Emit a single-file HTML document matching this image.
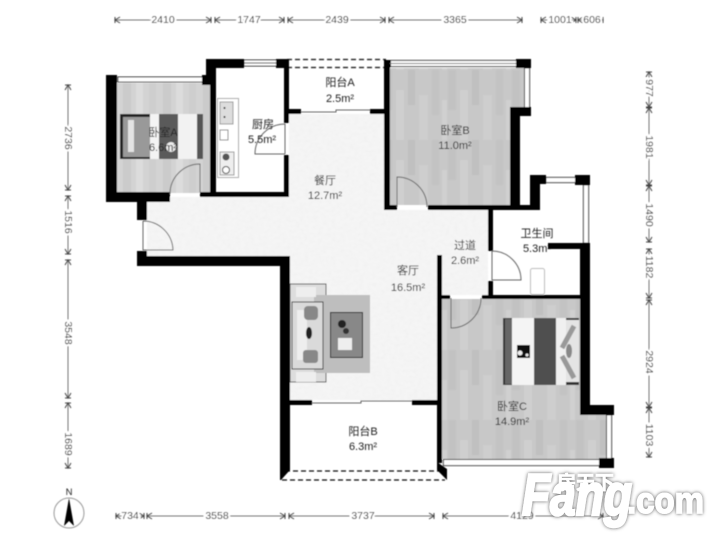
<!DOCTYPE html>
<html><head><meta charset="utf-8"><style>
html,body{margin:0;padding:0;background:#fff}
svg{display:block}
text{font-family:"Liberation Sans","Noto Sans CJK SC",sans-serif;fill:#222}
.l{font-size:11px;text-anchor:middle}
.d{font-size:10.5px;text-anchor:middle;dominant-baseline:central;stroke:#fff;stroke-width:4px;paint-order:stroke;fill:#222}
.a{stroke:#777;stroke-width:1;fill:none;marker-start:url(#ms);marker-end:url(#me)}
.w{fill:#000}
.door{fill:none;stroke:#666;stroke-width:1}
.win{fill:#fff;stroke:#111;stroke-width:1}
.dash{stroke:#111;stroke-width:1.2;stroke-dasharray:5 3;fill:none}
</style></head><body>
<svg width="720" height="540" viewBox="0 0 720 540" xmlns="http://www.w3.org/2000/svg">
<defs>
<marker id="ms" markerUnits="userSpaceOnUse" markerWidth="8" markerHeight="8" refX="1" refY="4" orient="auto"><path d="M1 1V7M6 1L1 4L6 7" fill="none" stroke="#444"/></marker>
<marker id="me" markerUnits="userSpaceOnUse" markerWidth="8" markerHeight="8" refX="7" refY="4" orient="auto"><path d="M7 1V7M2 1L7 4L2 7" fill="none" stroke="#444"/></marker>
<pattern id="wood" width="64" height="70" patternUnits="userSpaceOnUse">
<rect width="64" height="70" fill="#c8c8c8"/>
<rect x="0" width="8" height="40" fill="#c2c2c2"/><rect x="12" y="20" width="8" height="50" fill="#cfcfcf"/>
<rect x="24" width="7" height="35" fill="#c0c0c0"/><rect x="35" y="25" width="9" height="45" fill="#cecece"/>
<rect x="48" width="7" height="45" fill="#c3c3c3"/><rect x="58" y="30" width="5" height="40" fill="#d0d0d0"/>
</pattern>
<pattern id="woodA" width="40" height="60" patternUnits="userSpaceOnUse">
<rect width="40" height="60" fill="#d3d3d3"/>
<rect x="3" width="8" height="60" fill="#cbcbcb"/><rect x="16" width="7" height="60" fill="#dcdcdc"/><rect x="29" width="7" height="60" fill="#cecece"/>
</pattern>
<clipPath id="lv"><path d="M289 114H384V210H488V295H437V400H290V256H147V197H289Z"/></clipPath>
<filter id="noise" x="0" y="0" width="100%" height="100%"><feTurbulence type="fractalNoise" baseFrequency="0.22 0.3" numOctaves="2" seed="4"/><feColorMatrix values="0 0 0 0 0.86  0 0 0 0 0.86  0 0 0 0 0.86  1.6 0 0 0 -0.62"/></filter>
<filter id="soft"><feGaussianBlur stdDeviation="0.45"/></filter>
<filter id="glow" x="-10%" y="-20%" width="120%" height="140%"><feDropShadow dx="0" dy="0" stdDeviation="1.8" flood-color="#555" flood-opacity="1"/></filter>
</defs>
<rect width="720" height="540" fill="#fff"/>
<g filter="url(#soft)">
<!-- floors -->
<path d="M289 114H384V210H488V295H437V400H290V256H147V197H289Z" fill="#f5f5f5"/>
<g clip-path="url(#lv)"><rect x="140" y="110" width="360" height="295" filter="url(#noise)" opacity=".6"/></g>
<rect x="117" y="83" width="93" height="110" fill="url(#woodA)"/>
<path d="M390 68H524V107H510V205H390Z" fill="url(#wood)"/>
<path d="M442 299H580V415H606V459H442Z" fill="url(#wood)"/>
<!-- furniture: bed A -->
<rect x="120" y="114" width="83" height="45" fill="#222"/>
<rect x="123" y="117" width="27" height="40" fill="#999"/>
<rect x="128" y="120" width="6" height="32" fill="#e4e4e4"/>
<rect x="150" y="114" width="9" height="45" fill="#f4f4f4"/>
<rect x="159" y="114" width="19" height="45" fill="#5a5a5a"/>
<rect x="178" y="114" width="19" height="45" fill="#f2f2f2"/>
<rect x="197" y="114" width="6" height="45" fill="#555"/>
<circle cx="171" cy="147" r="5" fill="#eee"/>
<!-- kitchen counter -->
<rect x="217.500" y="98.500" width="21" height="79" fill="#fff" stroke="#aaa"/>
<rect x="220" y="102" width="13" height="22" fill="#ddd" stroke="#999"/>
<circle cx="224.500" cy="108" r="1" fill="#222"/><circle cx="224.500" cy="117" r="1" fill="#222"/>
<rect x="220" y="130" width="8" height="10" fill="#fff" stroke="#888"/>
<rect x="220" y="152" width="14" height="23" fill="#eee" stroke="#999"/>
<circle cx="226" cy="157" r="3.500" fill="#555"/><circle cx="226" cy="170" r="3.500" fill="#fff" stroke="#444"/>
<!-- sofa -->
<rect x="290" y="284" width="36" height="98" fill="#ddd" stroke="#555"/>
<rect x="314" y="295" width="56" height="78" fill="#bebebe"/>
<rect x="292" y="302" width="31" height="67" fill="#dadada" stroke="#333"/>
<rect x="297" y="310" width="10" height="50" fill="#eee"/>
<rect x="304" y="306" width="14" height="14" rx="4" fill="#888"/>
<rect x="303" y="350" width="15" height="13" rx="3" fill="#888"/>
<ellipse cx="309" cy="333" rx="3" ry="6" fill="#222"/>
<rect x="296" y="372" width="20" height="10" fill="#eee"/><rect x="296" y="287" width="20" height="10" fill="#eee"/>
<rect x="330.500" y="312.500" width="32" height="45" fill="#888" stroke="#111"/>
<circle cx="342" cy="324" r="4" fill="#222"/><circle cx="346" cy="331" r="3" fill="#333"/>
<rect x="338" y="338" width="14" height="12" fill="#eee"/>
<!-- bed C -->
<rect x="503" y="318" width="76" height="67" fill="#333"/>
<rect x="505" y="319" width="7" height="65" fill="#666"/>
<rect x="512" y="318" width="22" height="67" fill="#f4f4f4"/>
<rect x="534" y="318" width="22" height="67" fill="#505050"/>
<rect x="556" y="318" width="10" height="67" fill="#f0f0f0"/>
<rect x="566" y="320" width="13" height="62" fill="#e4e4e4"/>
<rect x="517" y="345" width="13" height="13" fill="#111"/><circle cx="520" cy="353" r="2.500" fill="#eee"/><circle cx="527" cy="355" r="1.500" fill="#eee"/>
<path d="M574 326L562 348M574 378L562 356" stroke="#999" stroke-width="5"/>
<ellipse cx="569" cy="351" rx="3" ry="7" fill="#888"/>
<!-- toilet -->
<rect x="530.500" y="268.500" width="14" height="26" rx="2" fill="#fff" stroke="#bbb"/>
<!-- windows -->
<rect class="win" x="118" y="77" width="85" height="5"/>
<rect class="win" x="244" y="60" width="33" height="6"/><path d="M244 63H277" stroke="#111"/>
<rect class="win" x="390.500" y="60.500" width="126" height="6"/><path d="M390 63.500H516" stroke="#777"/>
<rect class="win" x="524.500" y="68" width="5" height="40"/>
<rect class="win" x="546" y="177.500" width="30" height="5"/>
<rect class="win" x="583.500" y="185" width="5" height="58"/>
<rect class="win" x="606.500" y="415" width="5" height="44"/>
<rect class="win" x="443.500" y="459.500" width="156" height="6"/>
<!-- balconies dashed -->
<path class="dash" d="M287 59.500H386M287 67.500H386"/>
<path class="dash" d="M285 471H442M282 480H445"/>
<!-- walls -->
<g class="w">
<rect x="106" y="75" width="11" height="127"/>
<rect x="106" y="192" width="64" height="10"/>
<rect x="202" y="75" width="14" height="10"/>
<rect x="210" y="75" width="6" height="122"/>
<rect x="206" y="59" width="10" height="17"/>
<rect x="206" y="59" width="38" height="9"/>
<rect x="276" y="59" width="11" height="9"/>
<rect x="284" y="59" width="5" height="64"/>
<rect x="284" y="155" width="5" height="42"/>
<rect x="200" y="192" width="89" height="5"/>
<rect x="137" y="198" width="10" height="22"/>
<rect x="137" y="251" width="10" height="15"/>
<rect x="137" y="256" width="153" height="10"/>
<path d="M280 256H290V470L281 480H280Z"/>
<rect x="384" y="60" width="6" height="150"/>
<rect x="289" y="109" width="12" height="5"/><rect x="370" y="109" width="14" height="5"/>
<rect x="516" y="59" width="15" height="9"/>
<rect x="510" y="107" width="21" height="9"/>
<rect x="510" y="107" width="10" height="103"/>
<rect x="384" y="205" width="13" height="5"/>
<rect x="428" y="205" width="112" height="5"/>
<rect x="530" y="175" width="10" height="35"/>
<rect x="530" y="175" width="16" height="9"/>
<rect x="575" y="175" width="15" height="10"/>
<rect x="580" y="243" width="10" height="172"/>
<rect x="488" y="210" width="5" height="41"/>
<rect x="488" y="281" width="5" height="15"/>
<rect x="437" y="255" width="5" height="208"/>
<path d="M437 462L447 469V480L437 470Z"/>
<rect x="437" y="295" width="13" height="4"/>
<rect x="482" y="295" width="108" height="4"/>
<rect x="580" y="405" width="34" height="10"/>
<rect x="599" y="458" width="15" height="10"/>
<rect x="290" y="400" width="22" height="5"/><rect x="412" y="400" width="25" height="5"/>
</g>
<path d="M312 403H361V401H412" fill="none" stroke="#666"/>
<path d="M301 112H336V110H370" fill="none" stroke="#666"/>
<!-- doors -->
<path class="door" d="M200 192V164A30 30 0 0 0 170 194"/>
<path class="door" d="M285 154H255A30 30 0 0 1 285 124V154"/>
<path class="door" d="M397 207V177A30 30 0 0 1 427 207"/>
<path class="door" d="M143 221V250H173A30 30 0 0 0 143 221"/>
<path class="door" d="M492 251V280H521A29 29 0 0 0 492 251"/>
<path class="door" d="M451 298V328A30 30 0 0 0 481 298"/>
<!-- labels -->
<text class="l" x="340" y="86">阳台A</text><text class="l" x="340" y="102">2.5m²</text>
<text class="l" x="263" y="128">厨房</text><text class="l" x="262" y="143">5.5m²</text>
<text class="l" x="163" y="136">卧室A</text><text class="l" x="163" y="151">6.6m²</text>
<text class="l" x="455" y="134">卧室B</text><text class="l" x="455" y="149">11.0m²</text>
<text class="l" x="325" y="184">餐厅</text><text class="l" x="325" y="199">12.7m²</text>
<text class="l" x="537" y="237">卫生间</text><text class="l" x="537" y="252">5.3m²</text>
<rect class="w" x="548" y="243" width="32" height="6"/>
<text class="l" x="465" y="249">过道</text><text class="l" x="465" y="264">2.6m²</text>
<text class="l" x="408" y="274">客厅</text><text class="l" x="408" y="291">16.5m²</text>
<text class="l" x="363" y="435">阳台B</text><text class="l" x="363" y="450">6.3m²</text>
<text class="l" x="512" y="410">卧室C</text><text class="l" x="512" y="425">14.9m²</text>
<!-- top dims -->
<path class="a" d="M115 20H211"/><path class="a" d="M215 20H284"/><path class="a" d="M288 20H385"/><path class="a" d="M389 20H522"/>
<path class="a" d="M541 20H576"/><path class="a" d="M578 20H603"/>
<text class="d" x="163" y="20">2410</text><text class="d" x="249" y="20">1747</text><text class="d" x="337" y="20">2439</text><text class="d" x="455" y="20">3365</text><text class="d" x="560" y="20">1001</text><text class="d" x="592" y="20">606</text>
<!-- bottom dims -->
<path class="a" d="M116 516H144"/><path class="a" d="M147 516H285"/><path class="a" d="M289 516H434"/><path class="a" d="M443 516H603"/>
<text class="d" x="130" y="516">734</text><text class="d" x="217" y="516">3558</text><text class="d" x="363" y="516">3737</text><text class="d" x="522" y="516">4129</text>
<!-- left dims -->
<path class="a" d="M68 85V190"/><path class="a" d="M68 196V254"/><path class="a" d="M68 260V398"/><path class="a" d="M68 403V468"/>
<text class="d" x="68" y="138" transform="rotate(90 68 138)">2736</text>
<text class="d" x="68" y="222" transform="rotate(90 68 222)">1516</text>
<text class="d" x="68" y="333" transform="rotate(90 68 333)">3548</text>
<text class="d" x="68" y="444" transform="rotate(90 68 444)">1689</text>
<!-- right dims -->
<path class="a" d="M649 72V107"/><path class="a" d="M649 108V185"/><path class="a" d="M649 186V242"/><path class="a" d="M649 249V298"/><path class="a" d="M649 300V407"/><path class="a" d="M649 408V457"/>
<text class="d" x="649" y="88" transform="rotate(90 649 88)">977</text>
<text class="d" x="649" y="147" transform="rotate(90 649 147)">1981</text>
<text class="d" x="649" y="215" transform="rotate(90 649 215)">1490</text>
<text class="d" x="649" y="267" transform="rotate(90 649 267)">1182</text>
<text class="d" x="649" y="362" transform="rotate(90 649 362)">2924</text>
<text class="d" x="649" y="435" transform="rotate(90 649 435)">1103</text>
<!-- north -->
<circle cx="69" cy="513" r="15" fill="none" stroke="#999"/>
<path d="M69 498L74 526L69 521L64 526Z" fill="#000"/>
<text x="69" y="495" text-anchor="middle" font-size="9.500">N</text>
</g>
<!-- watermark -->
<g filter="url(#glow)" style="paint-order:stroke">
<text x="522" y="515" font-size="58" font-weight="700" font-style="italic" textLength="110" lengthAdjust="spacingAndGlyphs" stroke="#fff" stroke-width="2.500" style="fill:#fff">Fang</text>
<text x="627" y="513" font-size="37" font-weight="700" textLength="77" lengthAdjust="spacingAndGlyphs" stroke="#fff" stroke-width="1.500" style="fill:#fff">.com</text>
<text x="557" y="489" font-size="19" font-weight="700" stroke="#fff" stroke-width=".6" style="fill:#fff">房天下</text>
</g>
</svg>
</body></html>
